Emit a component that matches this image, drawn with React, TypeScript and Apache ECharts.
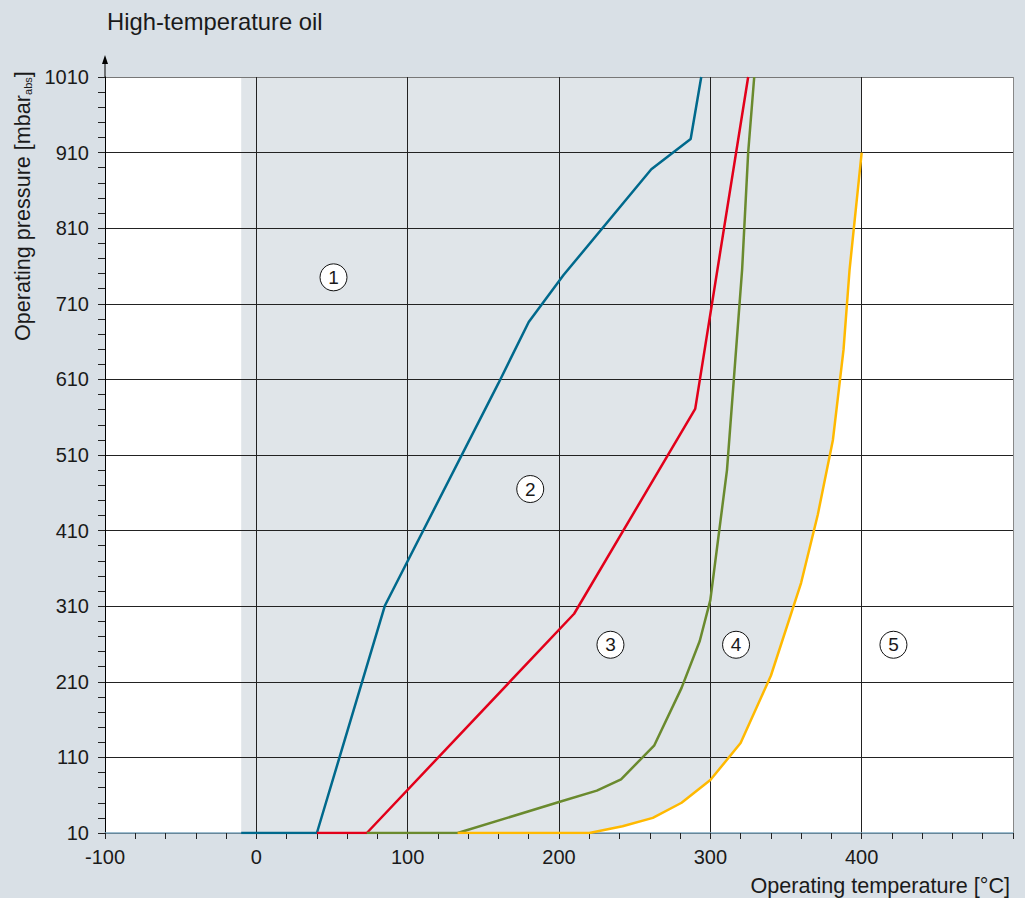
import React, { useEffect, useRef } from 'react';
import * as echarts from 'echarts';

// pressure axis starts at 10 mbar; ticks every 100 from there
const Y_BASE = 10;

const xTickLabels = ['-100', '0', '100', '200', '300', '400'];
const yTickLabels = ['10', '110', '210', '310', '410', '510', '610', '710', '810', '910', '1010'];

// curve 1 (blue)
const blueX = [-10, 40, 85, 160, 180, 203, 261, 287, 294];
const blueY = [10, 10, 311, 605, 686, 748, 888, 928, 1010];
// curve 2 (red)
const redX = [40, 73, 210, 290, 325];
const redY = [10, 10, 300, 571, 1010];
// curve 3 (green)
const greenX = [73, 133, 200, 225, 241, 263, 281, 293, 300, 311, 321, 325, 329];
const greenY = [10, 10, 51, 66, 81, 126, 202, 264, 318, 490, 755, 910, 1010];
// curve 4 (yellow)
const yellowX = [133, 220, 242, 262, 281, 300, 320, 340, 360, 371, 381, 388, 392, 400];
const yellowY = [10, 10, 19, 30, 50, 80, 129, 218, 341, 431, 530, 649, 755, 910];

// shaded working range: left edge and top, closed by curve 4
const shadeLeftX = -10;
const shadeTopY = 1010;
const shadeRightX = 400;

// circled region markers
const markerX = [51, 181, 234, 317, 421];
const markerY = [745, 465, 259, 259, 259];
const markerLabels = ['1', '2', '3', '4', '5'];

const BG = '#d9e0e6';
const SHADE = '#e0e5e9';
const FONT = '"Liberation Sans", Arial, sans-serif';
const TEXT = '#1a1a1a';

const toPts = (xs: number[], ys: number[]) => xs.map((x, i) => [x, ys[i] - Y_BASE]);

export default function App() {
  const ref = useRef<HTMLDivElement>(null);
  useEffect(() => {
    if (!ref.current) return;
    const chart = echarts.init(ref.current, undefined, { renderer: 'svg' });

    const shadePoly: number[][] = [
      [shadeLeftX, Y_BASE],
      [shadeLeftX, shadeTopY],
      [shadeRightX, shadeTopY],
      ...yellowX.map((x, i) => [x, yellowY[i]]).reverse(),
    ];

    const lineSeries = (name: string, xs: number[], ys: number[], color: string) => ({
      type: 'line',
      name,
      data: toPts(xs, ys),
      showSymbol: false,
      symbol: 'none',
      z: 5,
      lineStyle: { color, width: 2.5 },
    });

    const option: any = {
      animation: false,
      backgroundColor: BG,
      textStyle: { fontFamily: FONT },
      grid: {
        left: 105,
        right: 12,
        top: 77,
        bottom: 65,
        show: true,
        backgroundColor: '#ffffff',
        borderWidth: 0,
      },
      xAxis: {
        type: 'value',
        min: -100,
        max: 500,
        interval: 100,
        z: 3,
        axisLine: { show: true, onZero: false, lineStyle: { color: '#7fa8c0', width: 1.5 } },
        axisTick: { show: true, length: 6, lineStyle: { color: '#222' } },
        minorTick: { show: true, splitNumber: 5, length: 6, lineStyle: { color: '#222' } },
        splitLine: {
          show: true,
          lineStyle: { color: ['#222', '#222', '#222', '#222', '#222', '#222', '#888'], width: 1 },
        },
        axisLabel: {
          fontSize: 20,
          color: TEXT,
          margin: 14,
          fontFamily: FONT,
          formatter: (v: number) => {
            const s = String(v);
            return xTickLabels.includes(s) ? s : '';
          },
        },
      },
      yAxis: {
        type: 'value',
        min: 0,
        max: 1000,
        interval: 100,
        z: 3,
        axisLine: { show: true, onZero: false, lineStyle: { color: '#000', width: 1 } },
        axisTick: { show: true, length: 7, lineStyle: { color: '#222' } },
        minorTick: { show: true, splitNumber: 5, length: 7, lineStyle: { color: '#222' } },
        splitLine: {
          show: true,
          lineStyle: {
            color: ['#222', '#222', '#222', '#222', '#222', '#222', '#222', '#222', '#222', '#222', '#777'],
            width: 1,
          },
        },
        axisLabel: {
          fontSize: 20,
          color: TEXT,
          margin: 16,
          fontFamily: FONT,
          formatter: (v: number) => {
            const s = String(v + Y_BASE);
            return yTickLabels.includes(s) ? s : '';
          },
        },
      },
      graphic: [
        {
          type: 'text',
          left: 107,
          top: 9,
          style: { text: 'High-temperature oil', fontSize: 23.8, fill: TEXT, fontFamily: FONT },
        },
        {
          type: 'text',
          right: 15,
          top: 874,
          style: { text: 'Operating temperature [°C]', fontSize: 21.6, fill: TEXT, fontFamily: FONT },
        },
        {
          type: 'text',
          x: 22,
          y: 341,
          rotation: Math.PI / 2,
          style: {
            text: '{m|Operating pressure [mbar}{s|abs}{m|]}',
            align: 'left',
            verticalAlign: 'middle',
            fill: TEXT,
            fontFamily: FONT,
            rich: {
              m: { fontSize: 21.6, fill: TEXT, fontFamily: FONT },
              s: { fontSize: 11, fill: TEXT, fontFamily: FONT, verticalAlign: 'bottom', padding: [10, 0, 0, 0] },
            },
          },
        },
      ],
      series: [
        {
          type: 'custom',
          coordinateSystem: 'cartesian2d',
          silent: true,
          z: 1,
          data: [[0, 0]],
          renderItem: (_params: any, api: any) => {
            const pts = shadePoly.map((p) => api.coord([p[0], p[1] - Y_BASE]));
            const top = api.coord([-100, shadeTopY - Y_BASE]);
            return {
              type: 'group',
              children: [
                { type: 'polygon', shape: { points: pts }, style: { fill: SHADE } },
                {
                  type: 'line',
                  shape: { x1: top[0], y1: top[1], x2: top[0], y2: top[1] - 15 },
                  style: { stroke: '#000', lineWidth: 1 },
                },
                {
                  type: 'polygon',
                  shape: {
                    points: [
                      [top[0], top[1] - 22],
                      [top[0] - 3, top[1] - 13],
                      [top[0] + 3, top[1] - 13],
                    ],
                  },
                  style: { fill: '#000' },
                },
              ],
            };
          },
        },
        lineSeries('1', blueX, blueY, '#00698c'),
        lineSeries('2', redX, redY, '#e2001a'),
        lineSeries('3', greenX, greenY, '#6a8a2e'),
        lineSeries('4', yellowX, yellowY, '#ffb900'),
        {
          type: 'scatter',
          z: 6,
          silent: true,
          symbol: 'circle',
          symbolSize: 27,
          itemStyle: { color: '#ffffff', borderColor: '#111', borderWidth: 1, opacity: 1 },
          label: {
            show: true,
            position: 'inside',
            fontSize: 19,
            color: TEXT,
            fontFamily: FONT,
            formatter: (p: any) => p.value[2],
          },
          data: markerX.map((x, i) => [x, markerY[i] - Y_BASE, markerLabels[i]]),
        },
      ],
    };

    chart.setOption(option);
    return () => chart.dispose();
  }, []);

  return (
    <div
      ref={ref}
      style={{ position: 'fixed', left: 0, top: 0, width: 1025, height: 898 }}
    />
  );
}
